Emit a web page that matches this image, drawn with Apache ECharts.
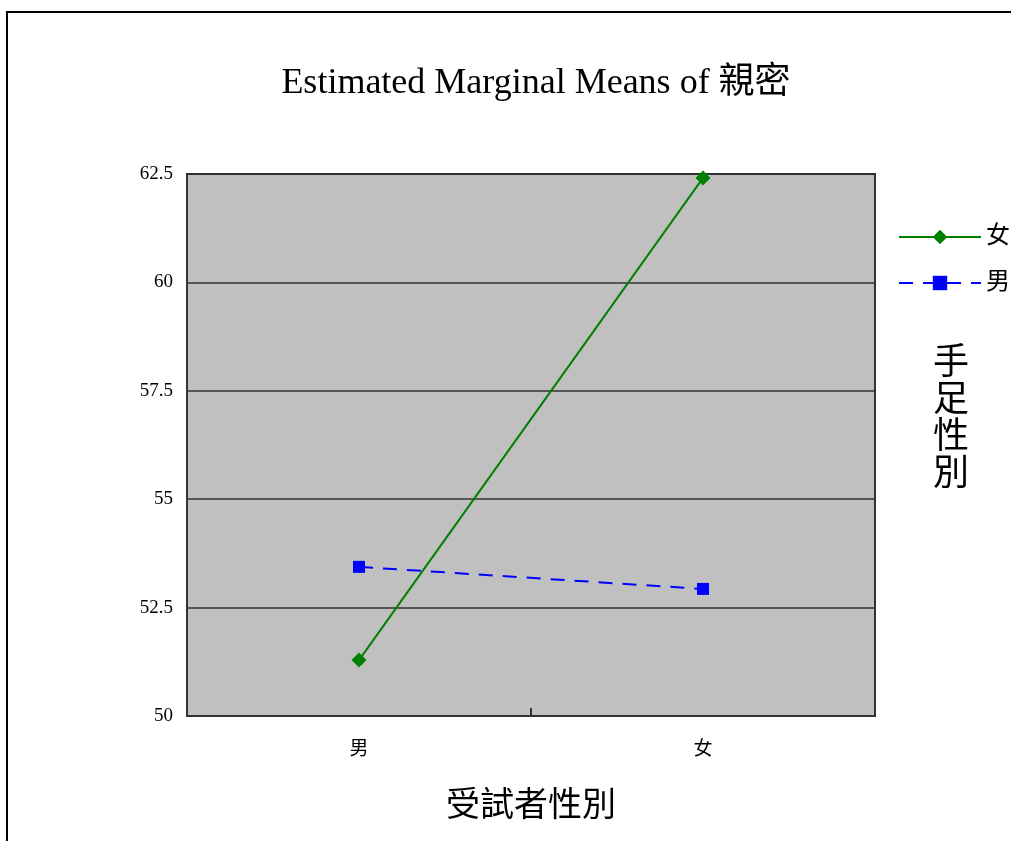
<!DOCTYPE html>
<html>
<head>
<meta charset="utf-8">
<script src="https://cdn.jsdelivr.net/npm/echarts@6/dist/echarts.min.js"></script>
<style>
html,body{margin:0;padding:0;background:#fff;overflow:hidden;}
#c{width:1011px;height:841px;}
</style>
</head>
<body>
<div id="c"></div>
<script>
const categories = ['男', '女'];
const seriesNames = ['女', '男'];
const femaleValues = [51.29, 62.41];
const maleValues = [53.44, 52.93];
const yTicks = [50, 52.5, 55, 57.5, 60, 62.5];

const serif = '"Liberation Serif", "Times New Roman", "Noto Sans CJK TC", serif';
const chart = echarts.init(document.getElementById('c'));
chart.setOption({
  backgroundColor: '#fff',
  animation: false,
  title: {
    text: 'Estimated Marginal Means of 親密',
    left: 531, top: 61, textAlign: 'center',
    textStyle: {fontFamily: serif, fontSize: 36, fontWeight: 'normal', color: '#000'}
  },
  graphic: [
    {type: 'rect', shape: {x: 7, y: 12, width: 1200, height: 1000}, style: {fill: 'none', stroke: '#000', lineWidth: 2}, z: -1},
    {type: 'text', left: 933, top: 346, style: {text: '手\n足\n性\n別', font: '36px ' + serif, lineHeight: 37, fill: '#000'}}
  ],
  legend: {
    orient: 'vertical', left: 893, top: 220, itemWidth: 82, itemHeight: 18, itemGap: 22,
    data: seriesNames,
    textStyle: {fontFamily: serif, fontSize: 24, color: '#000', padding: [0, 0, 0, 0]}
  },
  grid: {
    left: 187, top: 174, width: 688, height: 542, show: true,
    backgroundColor: '#C0C0C0', borderColor: '#333', borderWidth: 2
  },
  xAxis: {
    type: 'category', data: categories, boundaryGap: true,
    name: '受試者性別', nameLocation: 'middle', nameGap: 74,
    nameTextStyle: {fontFamily: serif, fontSize: 34, color: '#000'},
    axisLine: {lineStyle: {color: '#333', width: 2}},
    axisTick: {show: true, alignWithLabel: false, inside: true, length: 8, lineStyle: {color: '#333', width: 2}},
    axisLabel: {fontFamily: serif, fontSize: 19, color: '#000', margin: 25}
  },
  yAxis: {
    type: 'value', min: 50, max: 62.5, interval: 2.5,
    axisLine: {show: true, lineStyle: {color: '#333', width: 2}},
    axisTick: {show: false},
    splitLine: {lineStyle: {color: '#333', width: 1.5}},
    axisLabel: {fontFamily: serif, fontSize: 19, color: '#000', margin: 14,
      formatter: v => String(v)}
  },
  series: [
    {name: seriesNames[0], type: 'line', data: femaleValues, symbol: 'diamond', symbolSize: 15,
      itemStyle: {color: '#008000'}, lineStyle: {color: '#008000', width: 2}},
    {name: seriesNames[1], type: 'line', data: maleValues, symbol: 'rect', symbolSize: 12,
      itemStyle: {color: '#0000FF'}, lineStyle: {color: '#0000FF', width: 2, type: [14, 10]}}
  ]
});
</script>
</body>
</html>
